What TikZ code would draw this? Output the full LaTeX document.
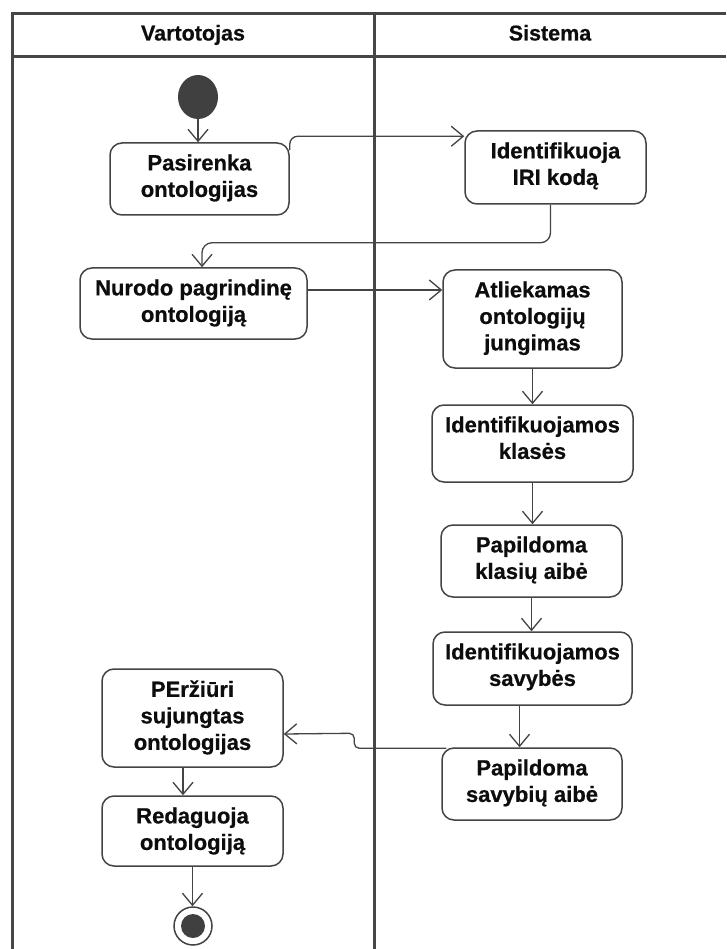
\documentclass[tikz,border=0pt]{standalone}
\usepackage{fontspec}
\setmainfont{Liberation Sans}[BoldFeatures={FakeBold=0.6}]
\usetikzlibrary{arrows.meta,calc,shapes.geometric}
\definecolor{ln}{RGB}{68,68,68}
\definecolor{fr}{RGB}{70,70,70}
\definecolor{dot}{RGB}{64,64,64}
\begin{document}
\begin{tikzpicture}[x=1pt,y=-1pt,
  box/.style={draw=ln, line width=1.5pt, rounded corners=12pt, fill=white, inner sep=0pt},
  txt/.style={font=\fontsize{22}{26.5}\selectfont\bfseries, align=center, inner sep=0pt, anchor=north, text=black!95},
  hdr/.style={font=\fontsize{21.5}{26.5}\selectfont\bfseries, inner sep=0pt, anchor=base, text=black!95},
  conn/.style={draw=ln, line width=1.3pt, -{Straight Barb[length=12pt,width=20pt]}},
  lane/.style={draw=fr, line width=3pt}]
\useasboundingbox (0,0) rectangle (726,949);
\fill[white] (0,0) rectangle (726,949);

% swimlanes
\draw[lane] (726,14) -- (12,14) -- (12,949);
\draw[lane] (12,57) -- (726,57);
\draw[lane] (374,14) -- (374,949);
\node[hdr] (hv) at (193,40.5) {Vartotojas};
\node[hdr] (hs) at (550,40.5) {Sistema};

% start / end
\node[ellipse, fill=dot, minimum width=40pt, minimum height=44pt, inner sep=0pt] (start) at (198,97) {};
\node[circle, draw=ln, line width=1.5pt, fill=white, minimum size=38pt, inner sep=0pt] (end) at (193,926) {};
\node[circle, fill=dot, minimum size=24pt, inner sep=0pt] (endc) at (end) {};

% boxes
\node[box, minimum width=179pt, minimum height=72pt] (pas) at (199.5,179) {};
\node[box, minimum width=181pt, minimum height=73pt] (iri) at (555.5,167.5) {};
\node[box, minimum width=227pt, minimum height=71pt] (nur) at (193.5,303.5) {};
\node[box, minimum width=179pt, minimum height=98pt] (atl) at (532.5,319) {};
\node[box, minimum width=201pt, minimum height=77pt] (idk) at (532.5,443.5) {};
\node[box, minimum width=181pt, minimum height=72pt] (pka) at (531.5,561) {};
\node[box, minimum width=199pt, minimum height=73pt] (ids) at (532.5,668.5) {};
\node[box, minimum width=180pt, minimum height=72pt] (psa) at (532,784) {};
\node[box, minimum width=181pt, minimum height=98pt] (per) at (192.5,718) {};
\node[box, minimum width=181pt, minimum height=70pt] (red) at (192.5,831) {};

% texts
\node[txt] (pasT) at ($(pas.north)+(0,12)$) {Pasirenka\\ontologijas};
\node[txt] (iriT) at ($(iri.north)+(0,12)$) {Identifikuoja\\IRI kodą};
\node[txt] (nurT) at ($(nur.north)+(0,12)$) {Nurodo pagrindinę\\ontologiją};
\node[txt] (atlT) at ($(atl.north)+(0,12)$) {Atliekamas\\ontologijų\\jungimas};
\node[txt] (idkT) at ($(idk.north)+(0,12)$) {Identifikuojamos\\klasės};
\node[txt] (pkaT) at ($(pka.north)+(0,12)$) {Papildoma\\klasių aibė};
\node[txt] (idsT) at ($(ids.north)+(0,12)$) {Identifikuojamos\\savybės};
\node[txt] (psaT) at ($(psa.north)+(0,12)$) {Papildoma\\savybių aibė};
\node[txt] (perT) at ($(per.north)+(0,12)$) {PEržiūri\\sujungtas\\ontologijas};
\node[txt] (redT) at ($(red.north)+(0,12)$) {Redaguoja\\ontologiją};

% connectors
\draw[conn] (start.south) -- (start.south |- pas.north);
\draw[conn, rounded corners=8pt] ($(pas.north east)+(0,8)$) |- ($(iri.north west)+(0,6)$);
\draw[conn, rounded corners=10pt] ($(iri.south)+(-5,0)$) -- ++(0,38) -| ($(nur.north)+(8.5,0)$);
\draw[conn] ($(nur.east)+(0,-13.5)$) -- ($(atl.west)+(0,-29)$);
\draw[conn] (atl.south) -- (atl.south |- idk.north);
\draw[conn] (idk.south) -- (idk.south |- pka.north);
\draw[conn] (pka.south) -- (pka.south |- ids.north);
\coordinate (a1) at ($(ids.south)+(-13,0)$);
\draw[conn] (a1) -- (a1 |- psa.north);
\draw[conn, rounded corners=5pt] ($(psa.north west)+(5,1)$) -- ++(-92,0) -- ++(0,-15) -- ($(per.east)+(0,16)$);
\coordinate (a2) at ($(per.south)+(-9.5,0)$);
\draw[conn] (a2) -- (a2 |- red.north);
\draw[conn] (red.south) -- (red.south |- end.north);
\end{tikzpicture}
\end{document}
